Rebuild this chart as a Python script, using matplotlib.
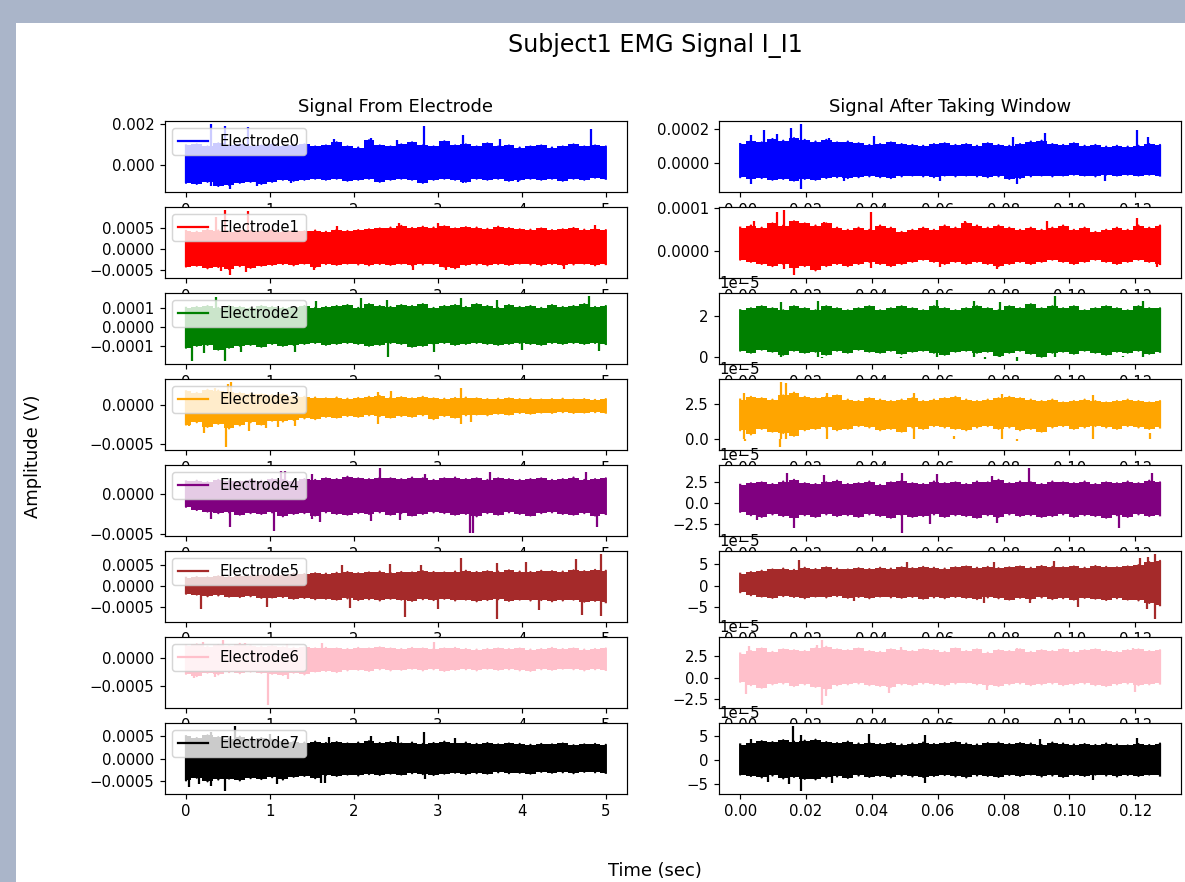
import numpy as np
import matplotlib
matplotlib.use('Agg')
import matplotlib.pyplot as plt
from matplotlib.patches import Rectangle

# envelope of each trace (40 bins per trace)
# left column: whole recording, 0..5 s, values in 1e-4 V
# right column: 256-sample window, 0..0.1275 s, values in 1e-5 V
# spikes: (time, value) of the isolated peaks sticking out of the band
colors = ['blue', 'red', 'green', 'orange', 'purple', 'brown', 'pink', 'black']
labels = ['Electrode0', 'Electrode1', 'Electrode2', 'Electrode3',
          'Electrode4', 'Electrode5', 'Electrode6', 'Electrode7']
raw_end = 5.0
win_end = 0.1275

raw0_hi = [9.5, 10, 9, 10.5, 9.5, 10, 9, 9.5, 10, 9,
           9.5, 10, 9, 9.5, 11, 9, 8.5, 12, 9.5, 9,
           10, 11, 9.5, 9, 11.5, 9.5, 10, 9, 10.5, 9,
           9.5, 8.5, 9, 9.5, 8.5, 9, 10, 9, 9.5, 9]
raw0_lo = [-8.5, -9, -8, -10, -9.5, -8.5, -8, -9, -8, -7,
           -7.5, -7, -6.5, -7, -6.5, -7.5, -7, -6.5, -8, -7,
           -6.5, -7, -8.5, -7, -6.5, -7, -8, -6.5, -7, -6.5,
           -7.5, -7, -6.5, -7, -6.5, -7.5, -6.5, -7, -6, -6.5]
raw0_spk = [(0.30, 19.7), (0.46, 18.9), (0.74, 18.6), (1.76, 12.5), (2.20, 13.3),
            (2.51, 12.2), (2.83, 18.9), (3.30, 14.4), (3.74, 12.5), (4.82, 17.3),
            (0.53, -11.5), (0.09, -9.0), (0.30, -10.0), (0.85, -9.8), (1.25, -8.8),
            (2.83, -8.6), (3.30, -8.6), (3.95, -8.2)]

raw1_hi = [4.2, 4.0, 4.5, 4.3, 4.0, 4.4, 4.2, 4.1, 4.5, 4.0,
           4.2, 4.1, 4.3, 4.0, 4.5, 4.2, 4.4, 4.6, 4.8, 5.0,
           5.4, 4.9, 5.2, 5.0, 5.3, 4.8, 5.1, 5.0, 4.7, 5.2,
           4.9, 4.6, 4.5, 4.8, 4.4, 4.6, 4.9, 4.5, 4.7, 4.4]
raw1_lo = [-4.2, -4.0, -4.6, -4.3, -4.8, -4.1, -4.5, -4.0, -3.8, -3.6,
           -3.9, -3.5, -4.3, -3.6, -3.8, -3.5, -3.7, -3.9, -3.6, -3.8,
           -3.5, -3.9, -3.7, -3.6, -4.2, -4.6, -3.8, -3.7, -3.9, -3.6,
           -3.8, -3.5, -3.7, -3.9, -3.6, -3.8, -3.7, -3.5, -3.9, -3.6]
raw1_spk = [(0.46, 9.1), (0.74, 9.0), (0.36, 7.5), (2.54, 6.0), (3.0, 6.0),
            (4.87, 5.6), (1.8, 5.3), (0.53, -6.2), (0.42, -5.2), (0.72, -5.4),
            (1.53, -4.9), (2.7, -5.0), (3.1, -5.0), (4.5, -4.8)]

raw2_hi = [1.0, 1.05, 1.1, 1.0, 1.1, 1.05, 1.0, 1.1, 1.05, 1.0,
           1.05, 1.1, 1.0, 1.05, 1.1, 1.15, 1.0, 1.2, 1.1, 1.05,
           1.15, 1.1, 1.2, 1.0, 1.1, 1.15, 1.05, 1.2, 1.1, 1.0,
           1.15, 1.05, 1.1, 1.0, 1.15, 1.05, 1.1, 1.2, 1.05, 1.1]
raw2_lo = [-1.1, -1.0, -0.95, -1.2, -1.1, -1.0, -0.95, -1.05, -0.9, -1.0,
           -0.95, -0.9, -0.85, -0.95, -0.9, -0.85, -0.9, -1.0, -0.95, -0.85,
           -0.9, -1.05, -1.0, -0.9, -0.85, -0.95, -0.9, -0.85, -0.9, -0.95,
           -0.9, -0.85, -0.9, -0.95, -0.85, -0.9, -0.85, -0.9, -0.85, -0.9]
raw2_spk = [(0.36, 1.55), (2.08, 1.5), (3.28, 1.52), (4.80, 1.62), (3.70, 1.43),
            (2.39, 1.43), (1.55, 1.35), (0.07, -1.8), (0.47, -1.8), (0.22, -1.4),
            (2.41, -1.6), (0.65, -1.3), (4.92, -1.25), (1.3, -1.3), (2.95, -1.3),
            (4.0, -1.2)]

raw3_hi = [1.8, 1.6, 2.0, 1.9, 1.7, 1.6, 1.5, 1.4, 1.3, 1.4,
           1.2, 1.1, 1.0, 0.9, 1.0, 0.85, 0.95, 1.1, 1.2, 1.0,
           1.05, 0.9, 1.1, 0.9, 0.85, 0.95, 1.0, 0.9, 0.8, 0.85,
           0.9, 0.8, 0.85, 0.75, 0.8, 0.85, 0.75, 0.8, 0.7, 0.8]
raw3_lo = [-2.5, -2.2, -2.8, -2.4, -3.0, -2.6, -2.2, -2.5, -2.0, -2.1,
           -1.9, -1.7, -1.8, -1.5, -1.6, -1.4, -1.5, -1.3, -1.4, -1.6,
           -1.4, -1.5, -1.3, -1.8, -1.4, -1.6, -1.3, -1.2, -1.3, -1.1,
           -1.2, -1.0, -1.1, -0.95, -1.0, -0.9, -1.0, -0.95, -0.9, -0.95]
raw3_spk = [(0.54, 3.0), (0.50, 2.7), (3.28, 2.3), (2.29, 1.7), (2.44, 1.9),
            (0.35, 2.2), (0.03, -2.75), (0.22, -3.6), (0.48, -5.4), (0.75, -3.3),
            (1.1, -2.8), (1.3, -2.7), (2.29, -2.4), (3.28, -2.4), (3.4, -2.2),
            (0.95, -2.9)]

raw4_hi = [1.6, 1.7, 1.5, 1.8, 1.7, 1.6, 1.8, 1.7, 1.9, 1.8,
           1.7, 1.9, 1.8, 2.0, 1.9, 2.2, 2.0, 1.9, 2.1, 2.0,
           1.9, 2.1, 2.0, 1.8, 2.0, 2.1, 1.9, 2.0, 1.8, 2.0,
           1.9, 1.8, 1.9, 2.0, 1.8, 1.9, 2.1, 1.8, 1.9, 2.0]
raw4_lo = [-1.6, -2.0, -2.2, -2.4, -2.3, -2.6, -2.4, -2.5, -2.3, -2.8,
           -2.5, -2.4, -2.7, -2.3, -2.5, -2.6, -2.4, -2.5, -2.3, -2.6,
           -2.4, -2.7, -2.5, -2.3, -2.4, -2.6, -2.5, -2.8, -2.4, -2.6,
           -2.3, -2.5, -2.7, -2.4, -2.3, -2.5, -2.6, -2.4, -2.7, -2.5]
raw4_spk = [(2.31, 3.3), (1.13, 2.95), (1.18, 2.95), (3.62, 2.8), (4.76, 2.8),
            (2.85, 2.6), (1.5, 2.6), (0.52, -4.2), (1.05, -4.7), (3.38, -4.9),
            (3.42, -4.9), (4.90, -4.1), (1.5, -3.2), (1.6, -3.5), (2.2, -3.4),
            (2.55, -3.3), (0.3, -3.1)]

raw5_hi = [2.0, 2.2, 2.1, 2.4, 2.3, 2.5, 2.4, 2.6, 2.8, 2.7,
           3.0, 2.9, 3.1, 3.0, 3.2, 3.4, 3.1, 3.3, 3.5, 3.2,
           3.4, 3.3, 3.6, 3.4, 3.3, 3.5, 3.7, 3.4, 3.6, 3.5,
           3.8, 3.5, 3.4, 3.7, 3.6, 3.5, 3.8, 3.6, 3.9, 3.7]
raw5_lo = [-1.8, -2.0, -2.4, -2.2, -2.5, -2.6, -2.4, -2.8, -2.7, -2.6,
           -3.0, -2.8, -3.1, -3.0, -3.2, -2.9, -3.3, -3.1, -3.4, -3.0,
           -3.2, -3.5, -3.1, -3.3, -3.0, -3.4, -3.2, -3.6, -3.3, -3.1,
           -3.5, -3.2, -3.4, -3.3, -3.6, -3.4, -3.2, -3.7, -3.5, -3.8]
raw5_spk = [(4.94, 7.7), (4.65, 6.4), (3.28, 6.8), (2.43, 5.4), (4.05, 5.9),
            (1.86, 5.1), (3.7, 5.5), (2.8, 5.0), (0.18, -5.4), (2.61, -7.4),
            (3.70, -7.8), (4.72, -6.8), (4.94, -7.0), (0.97, -5.0), (1.95, -5.2),
            (3.0, -5.5), (4.2, -5.6)]

raw6_hi = [2.2, 2.4, 2.0, 2.3, 2.1, 2.5, 2.2, 2.0, 2.1, 1.9,
           1.8, 1.9, 1.7, 1.8, 1.7, 1.6, 1.8, 1.7, 1.9, 1.7,
           1.6, 1.8, 1.7, 1.6, 1.7, 1.8, 1.6, 1.5, 1.6, 1.7,
           1.6, 1.7, 1.5, 1.6, 1.8, 1.6, 1.7, 1.5, 1.6, 1.7]
raw6_lo = [-2.8, -3.2, -2.6, -2.9, -2.5, -2.7, -2.4, -2.6, -2.8, -3.0,
           -2.6, -2.9, -2.4, -2.3, -2.5, -2.2, -2.1, -2.3, -2.0, -2.2,
           -2.1, -1.9, -2.2, -2.0, -2.3, -2.1, -2.0, -2.2, -1.9, -2.1,
           -2.0, -2.2, -2.3, -2.0, -2.1, -1.9, -2.0, -2.2, -2.0, -2.1]
raw6_spk = [(0.44, 3.2), (2.95, 2.9), (1.62, 2.6), (0.2, 2.8), (0.7, 2.7),
            (1.2, 2.5), (0.98, -8.3), (1.21, -3.7), (0.1, -3.5), (0.35, -3.3)]

raw7_hi = [5.0, 4.6, 5.2, 4.8, 4.5, 4.9, 4.4, 4.6, 4.2, 4.0,
           3.8, 3.6, 3.8, 3.5, 3.7, 3.4, 3.6, 3.9, 3.5, 3.7,
           3.4, 3.6, 3.3, 3.5, 3.8, 3.4, 3.6, 3.3, 3.5, 3.2,
           3.4, 3.3, 3.1, 3.3, 3.2, 3.4, 3.0, 3.2, 3.3, 3.1]
raw7_lo = [-4.8, -4.2, -5.0, -4.6, -4.4, -4.8, -4.3, -4.5, -4.1, -4.6,
           -4.0, -3.8, -4.3, -3.6, -3.8, -3.5, -3.7, -3.4, -3.6, -3.3,
           -3.5, -3.2, -3.4, -3.6, -3.3, -3.1, -3.4, -3.2, -3.3, -3.0,
           -3.2, -3.1, -3.3, -2.9, -3.1, -3.0, -3.2, -2.9, -3.0, -3.1]
raw7_spk = [(0.58, 7.3), (2.83, 5.9), (2.2, 5.0), (2.53, 5.0), (0.3, 6.0),
            (1.0, 5.5), (1.7, 4.8), (3.2, 4.6), (0.04, -6.2), (0.47, -7.1),
            (0.15, -5.5), (1.08, -5.5), (1.61, -5.3), (1.66, -5.3), (2.85, -4.6),
            (0.3, -6.0)]

win0_hi = [11, 13, 12, 14, 13, 14.5, 13.5, 12.5, 13.5, 12,
           12.5, 11.5, 10.5, 11, 12, 11, 10.5, 10, 11, 11.5,
           10.5, 11, 10, 11.5, 10.5, 10, 11, 12.5, 13, 11,
           10.5, 11.5, 10, 10.5, 9.5, 10, 9.5, 10, 11, 10.5]
win0_lo = [-8.5, -9.5, -9, -10, -9.5, -10.5, -9.5, -10, -9, -8.5,
           -9, -8.5, -8, -8.5, -9, -8, -7.5, -8, -8.5, -7.5,
           -8, -7.5, -8, -8.5, -8, -9.5, -9, -8, -7.5, -8,
           -7.5, -7, -7.5, -8, -7, -7.5, -7, -7.5, -7, -7.5]
win0_spk = [(0.0184, 22.7), (0.0154, 20.4), (0.0073, 19.4), (0.0032, 16.5), (0.0113, 17.0),
            (0.0406, 15.5), (0.0926, 17.5), (0.1204, 19.4), (0.1240, 15.0), (0.0830, 15.0),
            (0.0270, 14.5), (0.0184, -15.5), (0.0034, -12.6), (0.0841, -12.6),
            (0.0315, -10.5), (0.1108, -11.0), (0.0608, -11.0)]

win1_hi = [5.5, 6.0, 5.5, 6.5, 6.0, 7.0, 6.5, 6.0, 6.5, 5.5,
           5.0, 5.5, 5.0, 6.0, 5.5, 4.5, 5.0, 5.5, 5.0, 6.0,
           5.5, 6.5, 6.0, 5.5, 6.0, 5.5, 5.0, 5.5, 5.0, 5.5,
           6.0, 5.0, 5.5, 4.5, 5.0, 5.5, 5.0, 6.0, 5.5, 6.0]
win1_lo = [-2.0, -2.5, -3.0, -3.5, -3.0, -4.0, -3.5, -4.5, -3.5, -3.0,
           -3.5, -3.0, -2.5, -3.0, -3.5, -3.0, -2.5, -2.0, -2.5, -3.0,
           -2.5, -3.0, -2.5, -3.0, -3.5, -3.0, -2.5, -3.0, -2.5, -2.0,
           -2.5, -3.0, -2.5, -2.0, -2.5, -3.0, -2.5, -2.0, -2.5, -3.0]
win1_spk = [(0.0133, 9.6), (0.0111, 9.1), (0.0396, 9.1), (0.1204, 7.8), (0.0684, 7.0),
            (0.0255, 6.8), (0.0042, 7.0), (0.0931, 7.0), (0.0162, -5.6), (0.0133, -4.3),
            (0.0396, -3.9), (0.0780, -4.1), (0.0608, -3.8), (0.1265, -3.7)]

win2_hi = [2.3, 2.4, 2.5, 2.4, 2.3, 2.5, 2.4, 2.3, 2.5, 2.4,
           2.3, 2.4, 2.5, 2.3, 2.4, 2.5, 2.4, 2.3, 2.5, 2.4,
           2.3, 2.4, 2.5, 2.4, 2.3, 2.5, 2.4, 2.6, 2.4, 2.5,
           2.4, 2.5, 2.3, 2.4, 2.5, 2.4, 2.3, 2.5, 2.4, 2.4]
win2_lo = [0.3, 0.2, 0.35, 0.25, 0.1, 0.3, 0.2, 0.25, 0.1, 0.3,
           0.2, 0.35, 0.25, 0.2, 0.3, 0.15, 0.25, 0.3, 0.2, 0.1,
           0.25, 0.3, 0.2, 0.25, 0.05, 0.2, 0.3, 0.15, 0.0, 0.2,
           0.25, 0.15, 0.3, 0.2, 0.1, 0.25, 0.2, 0.3, 0.15, 0.25]
win2_spk = [(0.0957, 3.0), (0.0598, 2.8), (0.0236, 2.75), (0.0709, 2.75), (0.1224, 2.78),
            (0.0123, 2.7), (0.0790, 2.7), (0.0841, -0.21), (0.0250, -0.05), (0.0745, -0.1),
            (0.0093, 0.0), (0.0487, -0.05), (0.1000, 0.0), (0.1164, 0.02)]

win3_hi = [2.8, 3.0, 2.9, 2.8, 3.1, 3.3, 3.0, 2.9, 3.0, 3.1,
           2.8, 2.7, 2.9, 2.8, 2.7, 2.8, 2.9, 2.7, 2.8, 2.9,
           3.0, 2.8, 2.7, 2.8, 2.9, 3.0, 2.9, 2.8, 2.7, 2.8,
           2.6, 2.7, 2.8, 2.7, 2.6, 2.7, 2.8, 2.7, 2.6, 2.7]
win3_lo = [0.6, 0.3, 0.7, 0.5, 0.4, 0.2, 0.6, 0.7, 0.8, 0.6,
           0.7, 0.9, 0.8, 0.6, 0.7, 0.5, 0.8, 0.7, 0.9, 0.8,
           0.7, 0.6, 0.8, 0.9, 0.7, 0.8, 0.6, 0.7, 0.5, 0.8,
           0.9, 0.7, 0.8, 0.9, 0.8, 0.7, 0.9, 0.8, 0.7, 0.8]
win3_spk = [(0.0123, 4.06), (0.0138, 4.0), (0.0265, 3.3), (0.0012, 3.3), (0.0795, 3.2),
            (0.0527, 3.25), (0.1073, 3.1), (0.0121, -0.6), (0.0015, -0.2), (0.0841, -0.2),
            (0.0421, 0.0), (0.1245, 0.4), (0.0649, 0.2)]

win4_hi = [2.2, 2.4, 2.5, 2.3, 2.6, 2.8, 2.4, 2.3, 2.5, 2.7,
           2.3, 2.4, 2.6, 2.2, 2.5, 2.7, 2.4, 2.3, 2.6, 2.4,
           2.5, 2.3, 2.6, 2.5, 2.8, 2.4, 2.6, 2.5, 2.3, 2.6,
           2.5, 2.4, 2.6, 2.3, 2.5, 2.4, 2.6, 2.4, 2.7, 2.5]
win4_lo = [-1.0, -1.4, -1.6, -1.3, -1.5, -1.7, -1.4, -1.6, -1.3, -1.5,
           -1.4, -1.6, -1.3, -1.5, -1.7, -1.4, -1.6, -1.5, -1.3, -1.6,
           -1.4, -1.5, -1.7, -1.4, -1.6, -1.3, -1.5, -1.4, -1.6, -1.5,
           -1.3, -1.6, -1.4, -1.5, -1.7, -1.4, -1.6, -1.3, -1.5, -1.4]
win4_spk = [(0.0876, 4.2), (0.0492, 3.65), (0.0141, 3.6), (0.1250, 3.6), (0.0598, 3.5),
            (0.0255, 3.4), (0.0765, 3.3), (0.0492, -3.5), (0.0162, -2.9), (0.1149, -2.9),
            (0.0578, -2.5), (0.0051, -2.0), (0.0780, -2.3)]

win5_hi = [2.8, 3.2, 3.5, 3.8, 4.0, 3.7, 4.2, 3.9, 4.3, 4.0,
           3.8, 4.1, 3.9, 4.2, 4.0, 4.3, 4.1, 4.4, 4.2, 4.0,
           4.3, 4.5, 4.2, 4.4, 4.1, 4.3, 4.5, 4.2, 4.6, 4.4,
           4.3, 4.5, 4.2, 4.6, 4.4, 4.3, 4.5, 4.8, 5.5, 5.8]
win5_lo = [-1.5, -2.2, -2.5, -2.8, -2.4, -2.6, -2.9, -2.5, -2.7, -2.4,
           -2.8, -2.6, -2.9, -2.5, -2.7, -2.8, -2.6, -3.0, -2.7, -2.9,
           -2.6, -2.8, -3.1, -2.7, -2.9, -3.2, -2.8, -3.0, -2.7, -3.1,
           -2.9, -3.2, -2.8, -3.0, -3.3, -2.9, -3.2, -3.4, -4.0, -4.5]
win5_spk = [(0.1260, 7.4), (0.1240, 6.7), (0.0179, 5.9), (0.1214, 6.5), (0.0952, 5.7),
            (0.0507, 5.6), (0.0770, 5.5), (0.1260, -7.7), (0.1027, -4.9), (0.0740, -4.1),
            (0.0881, -4.1), (0.1235, -5.5), (0.0346, -3.6)]

win6_hi = [2.8, 3.1, 3.4, 3.0, 3.3, 3.2, 3.1, 3.4, 3.6, 3.3,
           3.2, 3.4, 3.1, 3.0, 3.3, 3.2, 3.1, 3.3, 3.2, 3.0,
           3.4, 3.1, 3.3, 2.9, 3.2, 3.1, 3.3, 3.0, 3.2, 3.1,
           3.3, 3.0, 3.2, 3.3, 3.1, 3.0, 3.2, 3.3, 3.1, 3.2]
win6_lo = [-0.5, -0.9, -1.2, -0.8, -0.7, -1.0, -0.8, -1.1, -1.4, -0.9,
           -0.8, -0.7, -0.9, -1.0, -1.1, -0.8, -0.9, -0.7, -0.8, -0.9,
           -0.7, -0.6, -0.8, -0.9, -1.0, -0.8, -0.7, -0.9, -0.8, -0.7,
           -0.9, -0.8, -0.7, -0.9, -1.0, -0.8, -0.7, -0.9, -0.8, -0.7]
win6_spk = [(0.0250, 4.4), (0.0234, 3.8), (0.0027, 3.65), (0.1194, 3.5), (0.0487, 3.6),
            (0.0841, 3.5), (0.0247, -3.2), (0.0017, -1.9), (0.0452, -1.8), (0.1199, -1.7),
            (0.0750, -1.5), (0.0260, -2.2)]

win7_hi = [3.3, 3.6, 4.0, 3.8, 4.2, 3.9, 4.1, 4.3, 3.8, 3.6,
           3.9, 3.5, 3.7, 3.4, 3.6, 3.3, 3.5, 3.7, 3.4, 3.6,
           3.8, 3.5, 3.3, 3.6, 3.7, 3.4, 3.6, 3.5, 3.2, 3.7,
           3.5, 3.3, 3.4, 3.2, 3.5, 3.3, 3.1, 3.4, 3.2, 3.5]
win7_lo = [-3.0, -3.3, -3.6, -3.2, -3.8, -3.5, -3.9, -4.0, -3.6, -3.4,
           -3.7, -3.2, -3.5, -3.3, -3.6, -3.2, -3.4, -3.5, -3.3, -3.1,
           -3.4, -3.6, -3.2, -3.3, -3.5, -3.1, -3.3, -3.0, -3.4, -3.2,
           -3.5, -3.1, -3.3, -3.0, -3.2, -3.4, -3.1, -3.3, -3.0, -3.2]
win7_spk = [(0.0159, 7.2), (0.0391, 5.5), (0.0560, 5.2), (0.0184, 5.2), (0.0032, 4.5),
            (0.0911, 4.5), (0.1204, 4.6), (0.0184, -6.4), (0.0149, -5.0), (0.0280, -4.8),
            (0.0560, -4.8), (0.0083, -4.5), (0.1073, -4.2)]

raw = [(raw0_hi, raw0_lo, raw0_spk), (raw1_hi, raw1_lo, raw1_spk),
       (raw2_hi, raw2_lo, raw2_spk), (raw3_hi, raw3_lo, raw3_spk),
       (raw4_hi, raw4_lo, raw4_spk), (raw5_hi, raw5_lo, raw5_spk),
       (raw6_hi, raw6_lo, raw6_spk), (raw7_hi, raw7_lo, raw7_spk)]
win = [(win0_hi, win0_lo, win0_spk), (win1_hi, win1_lo, win1_spk),
       (win2_hi, win2_lo, win2_spk), (win3_hi, win3_lo, win3_spk),
       (win4_hi, win4_lo, win4_spk), (win5_hi, win5_lo, win5_spk),
       (win6_hi, win6_lo, win6_spk), (win7_hi, win7_lo, win7_spk)]


def draw(ax, t_end, hi, lo, spk, scale, color, label=None):
    hi = np.array(hi) * scale
    lo = np.array(lo) * scale
    t = np.linspace(0, t_end, len(hi))
    ax.fill_between(t, lo, hi, step='mid', color=color, lw=0)
    ax.plot(np.repeat(t, 2), np.column_stack([hi, lo]).ravel(), color=color, label=label)
    st, sv = np.array(spk).T
    ax.vlines(st, 0, sv * scale, color=color, lw=1.5)


W, H, DPI = 1185, 882, 107
fig = plt.figure(figsize=(W / DPI, H / DPI), dpi=DPI, facecolor='#aab5c9')
fig.add_artist(Rectangle((16 / W, 0), 1, 1 - 23 / H, transform=fig.transFigure,
                         facecolor='white', edgecolor='none', zorder=-1))
axs = fig.subplots(8, 2, gridspec_kw=dict(left=165 / W, right=1181 / W, top=1 - 121 / H,
                                          bottom=1 - 794 / H, hspace=0.205, wspace=0.2))

for i in range(8):
    hi, lo, spk = raw[i]
    draw(axs[i, 0], raw_end, hi, lo, spk, 1e-4, colors[i], labels[i])
    axs[i, 0].legend(loc='upper left')
    hi, lo, spk = win[i]
    draw(axs[i, 1], win_end, hi, lo, spk, 1e-5, colors[i])

axs[0, 0].set_title('Signal From Electrode')
axs[0, 1].set_title('Signal After Taking Window')

fig.text(655 / W, 1 - 46 / H, 'Subject1 EMG Signal I_I1', fontsize=16, ha='center', va='center')
fig.text(655 / W, 1 - 871 / H, 'Time (sec)', fontsize=12, ha='center', va='center')
fig.text(33 / W, 1 - 456 / H, 'Amplitude (V)', fontsize=12, ha='center', va='center', rotation=90)

fig.savefig('out.png', dpi=DPI)
